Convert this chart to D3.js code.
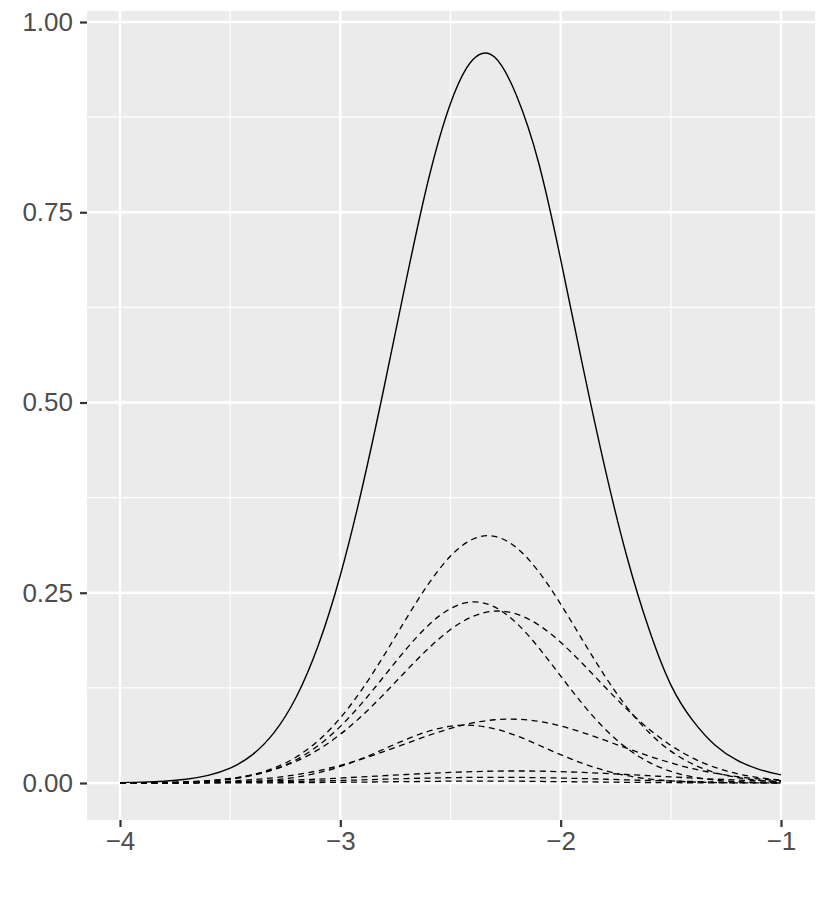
<!DOCTYPE html>
<html><head><meta charset="utf-8">
<script src="https://cdn.jsdelivr.net/npm/d3@7"></script>
<style>body{margin:0;background:#fff}svg{display:block}</style>
</head><body>
<svg id="chart" width="830" height="912"></svg>
<script>
// x grid shared by all curves
const xs = [-4.0,-3.9,-3.8,-3.7,-3.6,-3.5,-3.4,-3.3,-3.2,-3.1,-3.0,-2.9,-2.8,-2.7,-2.6,-2.5,-2.4,-2.3,-2.2,-2.1,-2.0,-1.9,-1.8,-1.7,-1.6,-1.5,-1.4,-1.3,-1.2,-1.1,-1.0];
// solid total curve
const total = [0.0005,0.0011,0.0023,0.0049,0.0100,0.0195,0.0370,0.0665,0.1130,0.1810,0.2730,0.3890,0.5220,0.6620,0.7930,0.8930,0.9500,0.9540,0.9030,0.8150,0.6880,0.5480,0.4150,0.2980,0.2030,0.1290,0.0820,0.0500,0.0300,0.0180,0.0107];
// dashed component curves
const compA = [0.0001,0.0002,0.0005,0.0012,0.0027,0.0055,0.0108,0.0198,0.0342,0.0557,0.0855,0.1237,0.1685,0.2164,0.2616,0.2982,0.3203,0.3241,0.3091,0.2777,0.2351,0.1875,0.1409,0.0998,0.0666,0.0419,0.0248,0.0138,0.0073,0.0036,0.0017];
const compB = [0.0001,0.0002,0.0005,0.0011,0.0025,0.0051,0.0098,0.0179,0.0306,0.0493,0.0744,0.1056,0.1408,0.1763,0.2074,0.2292,0.2379,0.2314,0.2100,0.1779,0.1406,0.1036,0.0713,0.0458,0.0274,0.0153,0.0080,0.0039,0.0018,0.0007,0.0003];
const compC = [0.0002,0.0004,0.0008,0.0016,0.0032,0.0059,0.0105,0.0178,0.0286,0.0438,0.0640,0.0888,0.1174,0.1477,0.1769,0.2016,0.2187,0.2259,0.2220,0.2077,0.1849,0.1567,0.1264,0.0971,0.0710,0.0494,0.0327,0.0206,0.0123,0.0071,0.0038];
const compD = [0.0001,0.0002,0.0004,0.0008,0.0014,0.0025,0.0043,0.0070,0.0109,0.0162,0.0232,0.0317,0.0415,0.0520,0.0624,0.0717,0.0789,0.0831,0.0838,0.0810,0.0749,0.0663,0.0562,0.0457,0.0355,0.0264,0.0188,0.0129,0.0084,0.0053,0.0032];
const compE = [0.0000,0.0000,0.0001,0.0002,0.0004,0.0009,0.0020,0.0041,0.0077,0.0134,0.0217,0.0324,0.0448,0.0574,0.0680,0.0746,0.0757,0.0712,0.0620,0.0499,0.0372,0.0257,0.0164,0.0097,0.0053,0.0027,0.0013,0.0006,0.0002,0.0001,0.0000];
const compF = [0.0002,0.0003,0.0005,0.0007,0.0010,0.0015,0.0021,0.0029,0.0039,0.0051,0.0065,0.0080,0.0096,0.0112,0.0127,0.0139,0.0149,0.0156,0.0158,0.0156,0.0149,0.0139,0.0127,0.0112,0.0096,0.0080,0.0065,0.0051,0.0039,0.0029,0.0021];
const compG = [0.0001,0.0001,0.0002,0.0003,0.0005,0.0007,0.0010,0.0014,0.0020,0.0026,0.0033,0.0041,0.0050,0.0058,0.0065,0.0070,0.0074,0.0075,0.0074,0.0070,0.0065,0.0058,0.0050,0.0041,0.0033,0.0026,0.0020,0.0014,0.0010,0.0007,0.0005];
const compH = [0.0000,0.0000,0.0000,0.0000,0.0001,0.0001,0.0002,0.0003,0.0004,0.0006,0.0009,0.0012,0.0015,0.0018,0.0021,0.0024,0.0025,0.0025,0.0024,0.0021,0.0018,0.0015,0.0012,0.0009,0.0006,0.0004,0.0003,0.0002,0.0001,0.0001,0.0000];
const components = [compA, compB, compC, compD, compE, compF, compG, compH];

const xTicks = [-4, -3, -2, -1];
const xMinor = [-3.5, -2.5, -1.5];
const yTicks = [0, 0.25, 0.5, 0.75, 1.0];
const yMinor = [0.125, 0.375, 0.625, 0.875];
const yLabels = ["0.00", "0.25", "0.50", "0.75", "1.00"];

const svg = d3.select("#chart");
const panel = {left: 87, right: 815, top: 11, bottom: 820};
const x = d3.scaleLinear().domain([-4, -1]).range([120, 781]);
const y = d3.scaleLinear().domain([0, 1]).range([783, 22]);

svg.append("rect").attr("x", panel.left).attr("y", panel.top)
  .attr("width", panel.right - panel.left).attr("height", panel.bottom - panel.top)
  .attr("fill", "#EBEBEB");

const grid = svg.append("g");
yMinor.forEach(v => grid.append("line").attr("x1", panel.left).attr("x2", panel.right)
  .attr("y1", y(v)).attr("y2", y(v)).attr("stroke", "#fff").attr("stroke-width", 1.2));
xMinor.forEach(v => grid.append("line").attr("y1", panel.top).attr("y2", panel.bottom)
  .attr("x1", x(v)).attr("x2", x(v)).attr("stroke", "#fff").attr("stroke-width", 1.2));
yTicks.forEach(v => grid.append("line").attr("x1", panel.left).attr("x2", panel.right)
  .attr("y1", y(v)).attr("y2", y(v)).attr("stroke", "#fff").attr("stroke-width", 2.4));
xTicks.forEach(v => grid.append("line").attr("y1", panel.top).attr("y2", panel.bottom)
  .attr("x1", x(v)).attr("x2", x(v)).attr("stroke", "#fff").attr("stroke-width", 2.4));

const line = d3.line().x((d, i) => x(xs[i])).y(d => y(d)).curve(d3.curveNatural);
const clip = svg.append("clipPath").attr("id", "clip").append("rect")
  .attr("x", panel.left).attr("y", panel.top).attr("width", panel.right - panel.left).attr("height", panel.bottom - panel.top);
const lines = svg.append("g").attr("clip-path", "url(#clip)");
components.forEach(c => lines.append("path").attr("d", line(c)).attr("fill", "none")
  .attr("stroke", "#000").attr("stroke-width", 1.3).attr("stroke-dasharray", "6,4.5"));
lines.append("path").attr("d", line(total)).attr("fill", "none")
  .attr("stroke", "#000").attr("stroke-width", 1.4);

// axes
const xAxis = d3.axisBottom(x).tickValues(xTicks).tickSize(7).tickPadding(5)
  .tickFormat(d => d3.format("d")(d).replace("-", "\u2212"));
const gx = svg.append("g").attr("transform", `translate(0,${panel.bottom})`).call(xAxis);
const yAxis = d3.axisLeft(y).tickValues(yTicks).tickSize(7).tickPadding(7)
  .tickFormat((d, i) => yLabels[i]);
const gy = svg.append("g").attr("transform", `translate(${panel.left},0)`).call(yAxis);
[gx, gy].forEach(g => {
  g.select(".domain").remove();
  g.selectAll(".tick line").attr("stroke", "#333").attr("stroke-width", 2.2);
  g.selectAll(".tick text").attr("fill", "#4D4D4D").style("font-family", "'Liberation Sans', Arial, sans-serif").style("font-size", "26px");
});
gx.selectAll(".tick text").attr("dy", "0.71em");
</script>
</body></html>
